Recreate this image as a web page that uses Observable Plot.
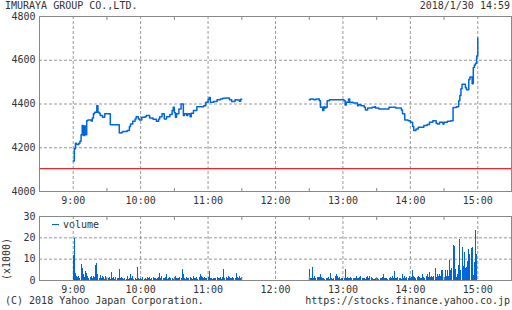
<!DOCTYPE html>
<html><head><meta charset="utf-8">
<script src="https://cdn.jsdelivr.net/npm/d3@7"></script>
<script src="https://cdn.jsdelivr.net/npm/@observablehq/plot@0.6"></script>
<style>
body{margin:0;background:#fff;}
#wrap{position:relative;width:512px;height:310px;overflow:hidden;font-family:"DejaVu Sans Mono",monospace;font-size:10px;color:#333;}
.t{position:absolute;white-space:nowrap;line-height:10px;}
#wrap svg{position:absolute;left:0;}
</style></head><body>
<div id="wrap">
  <div class="t" style="left:5px;top:1px;">IMURAYA GROUP CO.,LTD.</div>
  <div class="t" style="right:2px;top:1px;">2018/1/30 14:59</div>
  <div class="t" style="left:5px;top:296px;">(C) 2018 Yahoo Japan Corporation.</div>
  <div class="t" style="right:2px;top:296px;">https://stocks.finance.yahoo.co.jp</div>
  <div class="t" style="left:6.5px;top:258.5px;transform:translate(-50%,-50%) rotate(-90deg);">(x1000)</div>
  <div class="t" style="left:52px;top:220px;"><span style="display:inline-block;width:7px;height:1.5px;background:#0066dd;vertical-align:3px;margin-right:4px;"></span>volume</div>
</div>
<script>
// ---- data ----
const title = "IMURAYA GROUP CO.,LTD.";
const prevClose = 4105;
const hourTicks = ["9:00","10:00","11:00","12:00","13:00","14:00","15:00"];
const halfTicks = ["9:30","10:30","11:30","12:30","13:30","14:30"];
const priceTicks = [4000, 4200, 4400, 4600, 4800];
const volTicks = [0, 10, 20, 30];

const amTime = ["9:00","9:01","9:02","9:03","9:05","9:06","9:07","9:08","9:09","9:10","9:11","9:12","9:13","9:16","9:17","9:18","9:19","9:21","9:22","9:23","9:24","9:26","9:28","9:33","9:41","9:43","9:44","9:48","9:50","9:51","9:53","9:55","9:56","9:58","9:59","10:01","10:04","10:05","10:08","10:11","10:14","10:16","10:17","10:19","10:21","10:23","10:26","10:28","10:29","10:30","10:31","10:32","10:34","10:36","10:38","10:39","10:41","10:42","10:44","10:45","10:47","10:50","10:56","10:58","11:00","11:01","11:02","11:05","11:08","11:11","11:13","11:16","11:19","11:21","11:24","11:26","11:28","11:29","11:30"];
const amPrice = [4139,4195,4221,4215,4221,4230,4259,4302,4256,4300,4260,4324,4327,4322,4336,4355,4362,4392,4362,4358,4347,4339,4355,4305,4267,4270,4274,4279,4297,4309,4321,4332,4342,4332,4327,4339,4342,4347,4336,4330,4321,4332,4342,4355,4332,4342,4352,4370,4385,4360,4339,4355,4377,4400,4347,4355,4347,4355,4342,4358,4370,4388,4392,4408,4422,4430,4408,4412,4420,4423,4426,4428,4420,4411,4420,4418,4413,4422,4422];

const pmTime = ["12:30","12:31","12:34","12:36","12:39","12:40","12:42","12:43","12:44","12:45","12:46","12:48","13:01","13:02","13:03","13:05","13:06","13:09","13:13","13:14","13:16","13:19","13:20","13:22","13:26","13:28","13:29","13:32","13:41","13:47","13:52","13:53","13:55","13:58","14:00","14:02","14:03","14:05","14:07","14:12","14:15","14:17","14:20","14:23","14:24","14:26","14:29","14:30","14:33","14:36","14:38","14:41","14:43","14:44","14:45","14:46","14:49","14:50","14:52","14:53","14:55","14:56","14:57","14:58","14:59","15:00"];
const pmPrice = [4419,4423,4420,4423,4415,4385,4370,4388,4382,4385,4415,4419,4415,4395,4408,4423,4408,4405,4392,4397,4392,4385,4373,4382,4385,4388,4382,4377,4385,4382,4373,4355,4327,4323,4317,4297,4279,4286,4294,4302,4306,4317,4324,4312,4309,4317,4309,4317,4321,4324,4384,4388,4415,4439,4470,4490,4474,4465,4512,4524,4493,4567,4578,4586,4620,4702];

const volAmStart = "9:00";
const volAm = [11.5,19.5,3.4,1.9,1.2,1.9,0.9,7.6,5.4,2.6,1.3,4.2,3.5,1.9,1.0,1.4,1.9,1.1,1.9,1.6,
7.0,8.0,2.6,1.0,2.3,0.8,1.9,1.4,0.6,2.0,1.0,0.8,1.4,0.7,3.9,1.1,1.3,0.5,1.4,0.9,
1.1,5.1,1.0,1.4,1.1,0.6,1.0,0.7,1.9,0.6,1.0,2.9,1.1,1.9,0.7,1.1,0.5,6.0,1.0,0.7,
1.1,0.7,1.4,0.7,1.0,0.5,1.4,0.8,1.4,0.6,1.1,1.4,0.8,1.0,0.5,1.1,1.4,3.4,1.1,1.9,
1.0,0.8,1.4,2.6,0.7,1.1,1.4,0.8,1.1,0.6,1.4,1.9,1.1,1.0,0.8,1.4,1.1,5.0,2.6,1.1,
0.7,1.4,1.0,0.8,1.4,1.1,0.6,1.9,1.1,0.8,1.4,0.7,1.4,3.0,1.9,1.4,1.1,1.4,0.8,1.1,
1.4,4.2,0.8,1.1,0.5,0.8,1.1,0.8,1.4,0.8,1.1,1.4,0.7,1.4,5.3,1.1,1.4,0.8,1.9,1.4,
1.1,0.8,1.4,1.1,0.8,3.4,1.4,1.1,1.9,1.1,1.6];
const volPmStart = "12:30";
const volPm = [5.0,1.1,0.8,6.0,0.8,1.9,0.8,1.4,1.4,1.4,2.9,1.4,0.8,0.8,0.5,1.1,0.8,1.4,0.5,3.4,
0.8,0.5,0.8,1.9,2.6,1.9,1.1,1.4,0.5,0.8,1.1,0.8,5.0,1.1,1.4,1.1,0.8,1.4,0.8,0.8,
0.8,1.1,1.9,0.8,1.1,1.4,1.9,0.8,1.1,0.8,0.5,1.4,1.9,1.1,1.9,1.4,0.8,0.5,0.5,0.8,
1.1,0.8,0.5,1.1,0.8,1.4,2.6,1.1,0.8,1.1,0.5,1.1,1.4,0.8,1.9,1.1,4.2,1.1,0.8,1.4,
1.1,0.8,0.5,2.9,1.1,1.9,0.8,1.4,1.1,1.9,1.1,1.4,4.5,1.9,1.4,1.1,1.4,1.9,1.4,0.8,
1.1,2.9,1.4,0.8,1.9,2.6,1.4,3.9,1.4,1.9,1.4,1.9,5.4,1.4,2.6,1.9,2.6,1.9,4.5,4.5,
1.5,4.5,1.8,4.5,2.0,9.4,4.8,5.5,16.2,15.8,5.0,1.4,3.0,7.0,19.0,4.5,15.5,6.5,13.0,5.5,
6.0,9.0,14.5,12.0,15.0,15.5,2.5,8.5,23.5,12.3,0];

// ---- helpers ----
const T = s => { const [h, m] = s.split(":").map(Number); return new Date(Date.UTC(2018, 0, 30, h, m)); };
const addMin = (d, k) => new Date(+d + k * 60000);
const xDomain = [T("8:30"), T("15:30")];
const BLUE = "#0066dd", GRID = "#999", FRAME = "#888";
const fmt = d3.utcFormat("%-H:%M");

const price = [
  ...amTime.map((t, i) => ({t: T(t), p: amPrice[i], s: "am"})),
  ...pmTime.map((t, i) => ({t: T(t), p: pmPrice[i], s: "pm"}))
];
const vol = [
  ...volAm.map((v, i) => ({t: addMin(T(volAmStart), i), v})),
  ...volPm.map((v, i) => ({t: addMin(T(volPmStart), i), v}))
].filter(d => d.v > 0);

const style = {fontFamily: "DejaVu Sans Mono", fontSize: "10px", color: "#333", background: "transparent", overflow: "visible"};
const hours = hourTicks.map(T), halves = halfTicks.map(T);

const common = (yTicks) => [
  Plot.gridX(hours, {stroke: GRID, strokeOpacity: 1, strokeDasharray: "3,2"}),
  Plot.gridY(yTicks.slice(1, -1), {stroke: GRID, strokeOpacity: 1, strokeDasharray: "3,2"}),
];
const frameMarks = (yTicks, xLabels) => [
  Plot.frame({stroke: FRAME}),
  Plot.axisX(halves, {anchor: "top", tickSize: 3, dy: 3, tickFormat: () => "", stroke: FRAME, label: null}),
  Plot.axisX(halves, {anchor: "bottom", tickSize: 3, dy: -3, tickFormat: () => "", stroke: FRAME, label: null}),
  Plot.axisX(hours, {anchor: "bottom", tickSize: 0, tickPadding: 5, tickFormat: fmt, label: null, fill: "#333"}),
  Plot.axisY(yTicks, {anchor: "left", tickSize: 0, tickPadding: 4, tickFormat: d => String(d), label: null, fill: "#333"})
];

const p1 = Plot.plot({
  width: 512, height: 210,
  marginLeft: 39, marginRight: 1, marginTop: 16, marginBottom: 19,
  style,
  x: {type: "utc", domain: xDomain},
  y: {domain: [4000, 4800]},
  marks: [
    ...common(priceTicks),
    Plot.ruleY([prevClose], {stroke: "#e8262b", strokeWidth: 1.2}),
    Plot.line(price, {x: "t", y: "p", z: "s", curve: "step-after", stroke: BLUE, strokeWidth: 1.5}),
    ...frameMarks(priceTicks)
  ]
});
p1.style.top = "0px";

const p2 = Plot.plot({
  width: 512, height: 85,
  marginLeft: 39, marginRight: 1, marginTop: 6, marginBottom: 15,
  style,
  x: {type: "utc", domain: xDomain},
  y: {domain: [0, 30]},
  marks: [
    ...common(volTicks),
    Plot.ruleX(vol, {x: "t", y1: 0, y2: "v", stroke: BLUE, strokeWidth: 1, shapeRendering: "crispEdges"}),
    ...frameMarks(volTicks)
  ]
});
p2.style.top = "210px";

const wrap = document.getElementById("wrap");
wrap.appendChild(p1);
wrap.appendChild(p2);
</script>
</body></html>
